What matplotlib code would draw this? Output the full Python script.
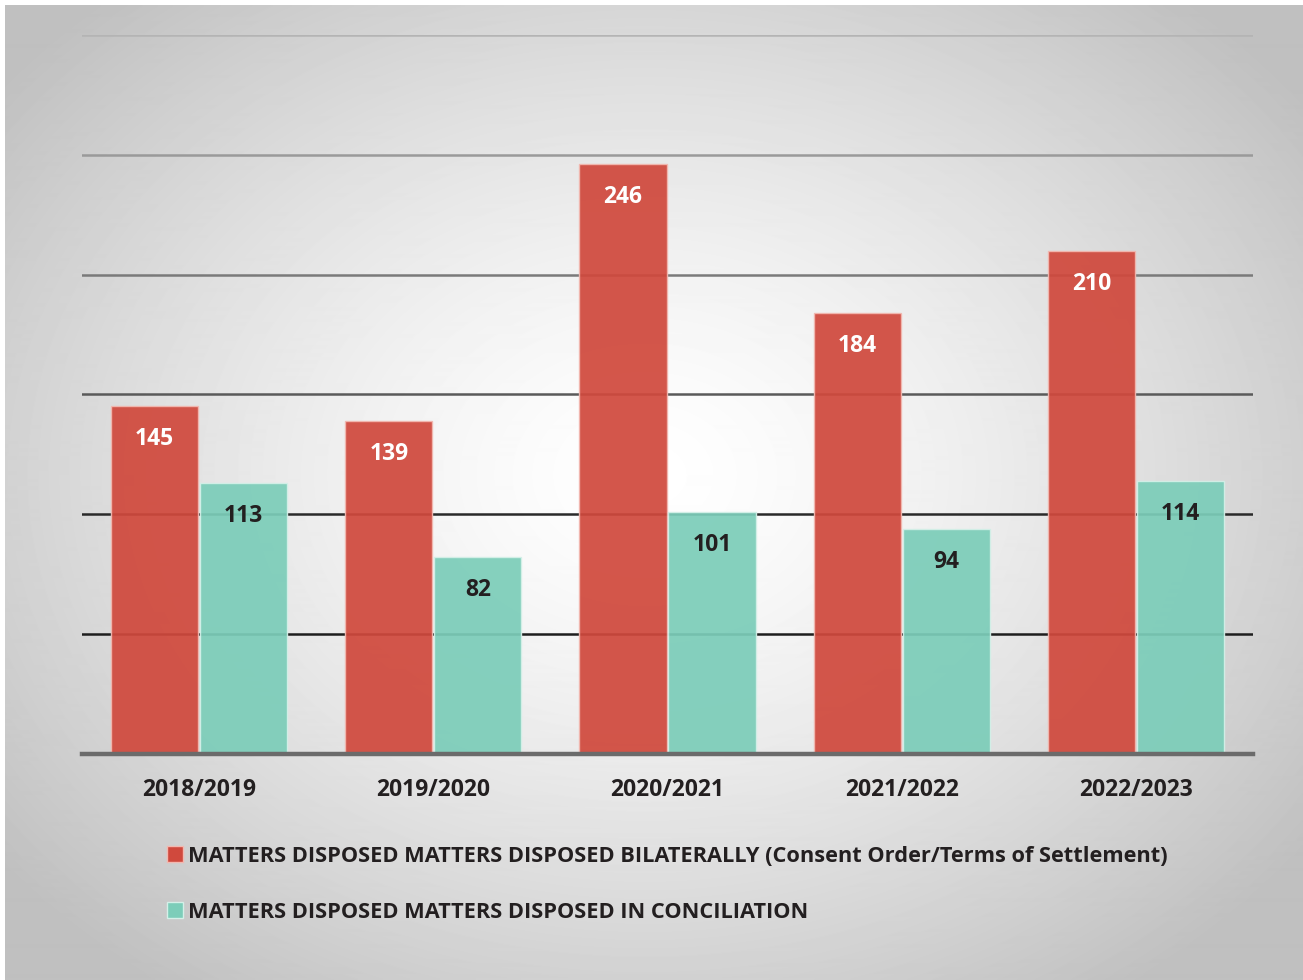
import numpy as np
import matplotlib as mpl
mpl.use('Agg')
import matplotlib.pyplot as plt
from matplotlib.patches import Patch

# anos e valores
anos = ['2018/2019', '2019/2020', '2020/2021', '2021/2022', '2022/2023']
bilateral = [145, 139, 246, 184, 210]
conciliacao = [113, 82, 101, 94, 114]
nome_bilateral = 'MATTERS DISPOSED MATTERS DISPOSED BILATERALLY (Consent Order/Terms of Settlement)'
nome_conciliacao = 'MATTERS DISPOSED MATTERS DISPOSED IN CONCILIATION'

vermelho = '#d0493d'
verde = '#7ccdb9'
texto = '#231f20'

plt.rcParams['font.family'] = ['Open Sans', 'DejaVu Sans']

fig = plt.figure(figsize=(13.03, 9.8), dpi=100)
fig.patch.set_facecolor('white')

# fundo com gradiente radial
bg = fig.add_axes([5/1303, 0, 1 - 5/1303, 1 - 5/980])
bg.set_axis_off()
yy, xx = np.mgrid[0:975, 0:1298]
d = np.sqrt(((xx - 640) / 820.0) ** 2 + ((yy - 470) / 640.0) ** 2)
d = np.clip(d, 0, 1)
cinza = 1 - 0.25 * d ** 1.4
bg.imshow(cinza, cmap='gray', vmin=0, vmax=1, aspect='auto', interpolation='bilinear')

ax = fig.add_axes([82/1303, 1 - 754/980, (1253 - 82)/1303, (754 - 35)/980])
ax.set_facecolor('none')

x = np.arange(len(anos))
larg = 0.372
desl = 0.19

# linhas de grade, mais escuras em baixo
cores_grade = ['#1e1e1e', '#2a2a2a', '#5a5a5a', '#7a7a7a', '#9a9a9a', '#b4b4b4']
for nivel, c in zip([50, 100, 150, 200, 250, 300], cores_grade):
    ax.axhline(nivel, color=c, lw=1.8, zorder=0)

b1 = ax.bar(x - desl, bilateral, larg, color=vermelho, alpha=0.93,
            edgecolor='#f2b8b0', linewidth=1.0, zorder=2)
b2 = ax.bar(x + desl, conciliacao, larg, color=verde, alpha=0.93,
            edgecolor='#d4f0e8', linewidth=1.0, zorder=2)

for barra, v in zip(b1, bilateral):
    ax.annotate(str(v), (barra.get_x() + barra.get_width()/2, v),
                xytext=(0, -33), textcoords='offset pixels',
                ha='center', va='center', color='white',
                fontsize=16.5, fontweight='bold', zorder=3)
for barra, v in zip(b2, conciliacao):
    ax.annotate(str(v), (barra.get_x() + barra.get_width()/2, v),
                xytext=(0, -33), textcoords='offset pixels',
                ha='center', va='center', color=texto,
                fontsize=16.5, fontweight='bold', zorder=3)

ax.set_xlim(-0.5, len(anos) - 0.5)
ax.set_ylim(0, 300)
ax.set_yticks([])
ax.set_xticks(x)
ax.set_xticklabels(anos, fontsize=16.5, fontweight='bold', color=texto)
ax.tick_params(axis='x', length=0, pad=17.5)
for s in ['top', 'left', 'right']:
    ax.spines[s].set_visible(False)
ax.spines['bottom'].set_color('#6b6b6b')
ax.spines['bottom'].set_linewidth(3.2)
ax.spines['bottom'].set_zorder(4)

handles = [Patch(facecolor=vermelho, edgecolor='#f2b8b0', label=nome_bilateral),
           Patch(facecolor=verde, edgecolor='#d4f0e8', label=nome_conciliacao)]
fig.legend(handles=handles, loc='upper left', bbox_to_anchor=(147/1303, 1 - 826/980),
           frameon=False, handlelength=0.75, handleheight=0.75,
           handletextpad=0.25, labelspacing=1.6, labelcolor=texto,
           prop={'weight': 'bold', 'size': 15.7})

fig.savefig('out.png', dpi=100)
